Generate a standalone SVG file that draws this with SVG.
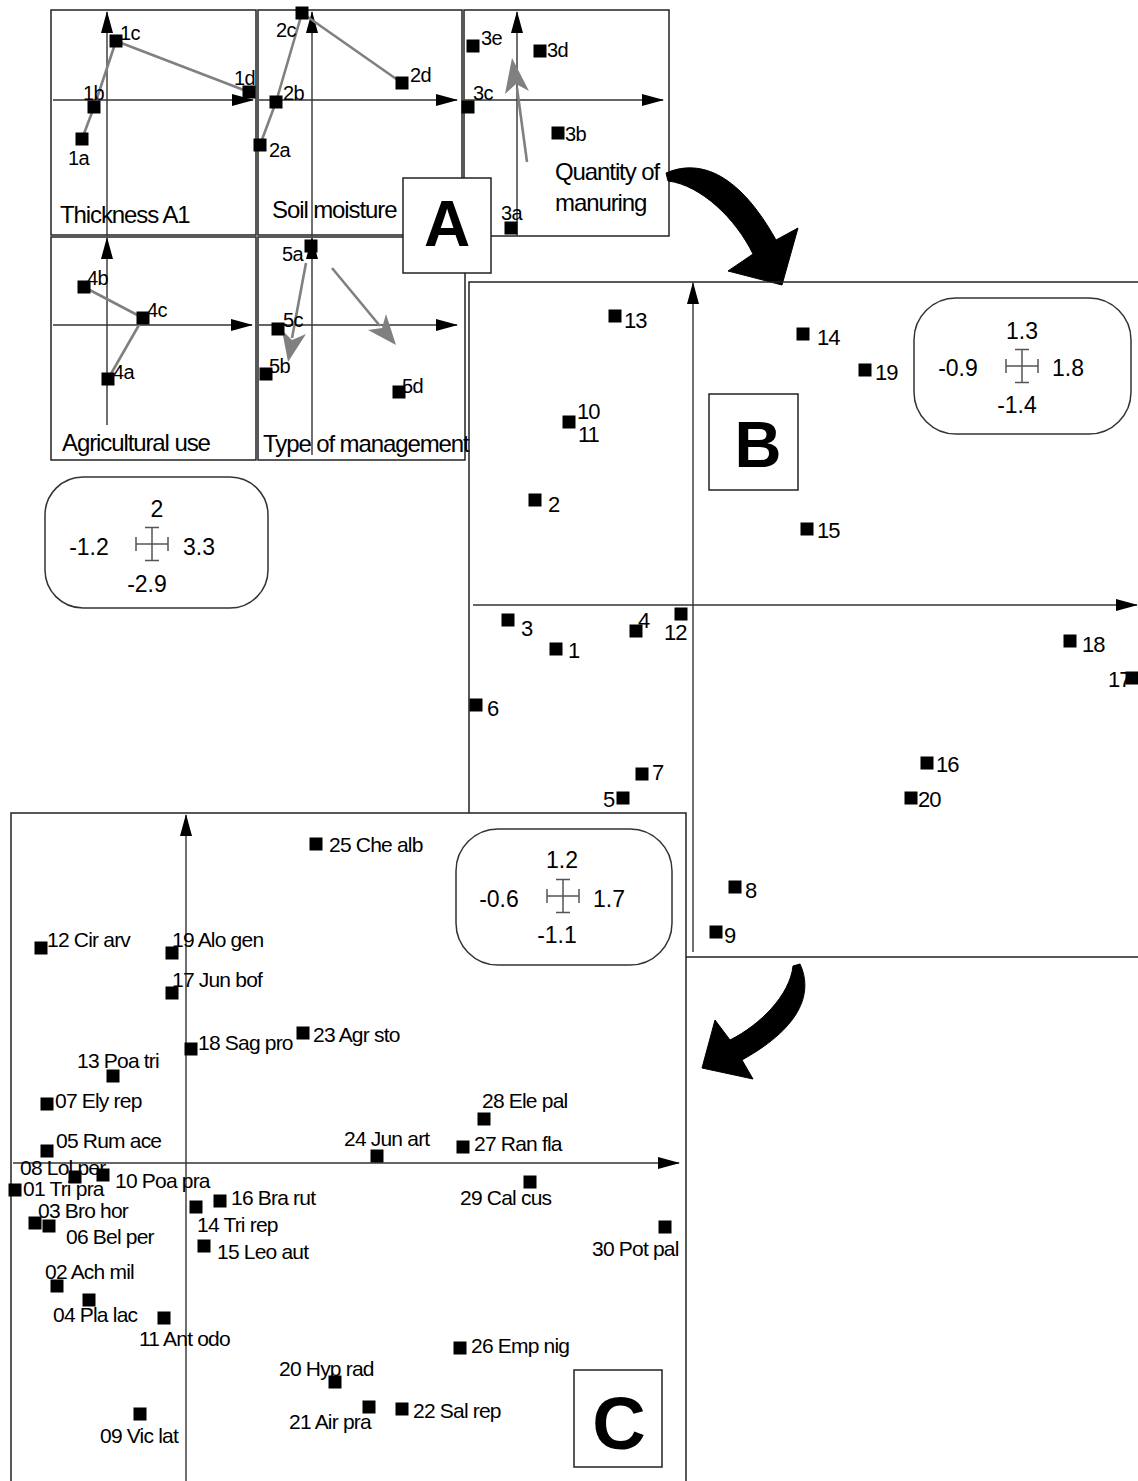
<svg xmlns="http://www.w3.org/2000/svg" xmlns:xlink="http://www.w3.org/1999/xlink" width="1138" height="1481" viewBox="0 0 1138 1481">
<style>
  text { font-family: "Liberation Sans", Arial, sans-serif; fill: #000; }
  .cell { fill: none; stroke: #222; stroke-width: 1.5; }
  .frame { fill: #fff; stroke: #222; stroke-width: 1.5; }
  .ax { fill: none; stroke: #333; stroke-width: 1.4; marker-end: url(#ah); }
  .tr { fill: none; stroke: #808080; stroke-width: 2.6; stroke-linejoin: round; }
  .trh { fill: #808080; stroke: none; }
  .la { font-size: 20px; letter-spacing: -0.6px; }
  .ttl { font-size: 24px; letter-spacing: -1.1px; }
  .lb { font-size: 22px; letter-spacing: -1px; }
  .lc { font-size: 21px; letter-spacing: -0.8px; }
  .sc { font-size: 23px; text-anchor: middle; }
  .scbox { fill: #fff; stroke: #333; stroke-width: 1.5; }
  .cross { fill: none; stroke: #555; stroke-width: 1.5; }
  .tag { fill: #fff; stroke: #222; stroke-width: 1.5; }
  .big { font-weight: bold; text-anchor: middle; }
  .bigarrow { fill: #000; stroke: #000; stroke-width: 1; }
</style>
<defs>
  <marker id="ah" viewBox="0 0 22 12" refX="21" refY="6" markerWidth="22" markerHeight="12" markerUnits="userSpaceOnUse" orient="auto">
    <path d="M0,0 L22,6 L0,12 Z" fill="#000"/>
  </marker>
  <rect id="sq" x="-6.5" y="-6.5" width="13" height="13" fill="#000"/>
  <g id="crossbar">
    <path class="cross" d="M-16,0 H16 M0,-16.5 V16.5 M-16,-7 V7 M16,-7 V7 M-7,-16.5 H7 M-7,16.5 H7"/>
  </g>
</defs>
<rect width="1138" height="1481" fill="#fff"/>

<!-- ===== Panel A: five small ordination plots ===== -->
<g id="panelA">
  <rect class="cell" x="51" y="10" width="205" height="225"/>
  <rect class="cell" x="258" y="10" width="204" height="225"/>
  <rect class="cell" x="464" y="10" width="205" height="226"/>
  <rect class="cell" x="51" y="237" width="205" height="223"/>
  <rect class="cell" x="258" y="237" width="207" height="223"/>

  <!-- axes -->
  <line class="ax" x1="53" y1="100" x2="253" y2="100"/>
  <line class="ax" x1="107" y1="236" x2="107" y2="12"/>
  <line class="ax" x1="259" y1="100" x2="457" y2="100"/>
  <line class="ax" x1="312" y1="236" x2="312" y2="12"/>
  <line class="ax" x1="465" y1="100" x2="663" y2="100"/>
  <line class="ax" x1="517" y1="236" x2="517" y2="12"/>
  <line class="ax" x1="53" y1="325" x2="252" y2="325"/>
  <line class="ax" x1="107" y1="425" x2="107" y2="238"/>
  <line class="ax" x1="259" y1="325" x2="457" y2="325"/>
  <line class="ax" x1="312" y1="455" x2="312" y2="238"/>

  <text class="ttl" x="60" y="223">Thickness A1</text>
  <text class="ttl" x="272" y="218">Soil moisture</text>
  <text class="ttl" x="555" y="180">Quantity of</text>
  <text class="ttl" x="555" y="211">manuring</text>
  <text class="ttl" x="62" y="451">Agricultural use</text>
  <text class="ttl" x="263" y="452">Type of management</text>
</g>

<!-- connectors: trajectories in panel A and the arrows between panels -->
<g id="connectors">
  <polyline class="tr" points="82,139 94,107 116,41 249,92"/>
  <polyline class="tr" points="260,145 276,102 302,13 402,83"/>
  <polyline class="tr" points="84,287 143,318 108,379"/>
  <line class="tr" x1="527" y1="162" x2="517" y2="88"/>
  <polygon class="trh" points="512,58 529,91 516,84 505,94"/>
  <line class="tr" x1="306" y1="263" x2="292" y2="338"/>
  <polygon class="trh" points="288,362 306,334 292,340 282,330"/>
  <line class="tr" x1="332" y1="268" x2="380" y2="326"/>
  <polygon class="trh" points="396,345 386,314 382,328 368,330"/>
  <path id="arrowAB" class="bigarrow" d="M668,181 L666,173 C696,160 736,168 776,240 L798,228 L782,285 L728,271 L753,254 C736,219 701,185 668,181 Z"/>
  <path id="arrowBC" class="bigarrow" d="M793,966 L800,964 C812,990 805,1025 742,1060 L753,1079 L702,1068 L715,1020 L730,1040 C760,1025 790,995 793,966 Z"/>
</g>

<g id="tagA"><rect class="tag" x="403" y="178" width="88" height="95"/><text class="big" x="447" y="246" font-size="64">A</text></g>

<g id="p1a"><use href="#sq" x="82" y="139"/><text class="la" x="68" y="165">1a</text></g>
<g id="p1b"><use href="#sq" x="94" y="107"/><text class="la" x="83" y="100">1b</text></g>
<g id="p1c"><use href="#sq" x="116" y="41"/><text class="la" x="120" y="40">1c</text></g>
<g id="p1d"><use href="#sq" x="249" y="92"/><text class="la" x="234" y="85">1d</text></g>
<g id="p2a"><use href="#sq" x="260" y="145"/><text class="la" x="269" y="157">2a</text></g>
<g id="p2b"><use href="#sq" x="276" y="102"/><text class="la" x="283" y="100">2b</text></g>
<g id="p2c"><use href="#sq" x="302" y="13"/><text class="la" x="276" y="37">2c</text></g>
<g id="p2d"><use href="#sq" x="402" y="83"/><text class="la" x="410" y="82">2d</text></g>
<g id="p3e"><use href="#sq" x="473" y="46"/><text class="la" x="481" y="45">3e</text></g>
<g id="p3d"><use href="#sq" x="540" y="51"/><text class="la" x="547" y="57">3d</text></g>
<g id="p3c"><use href="#sq" x="468" y="107"/><text class="la" x="473" y="100">3c</text></g>
<g id="p3b"><use href="#sq" x="558" y="133"/><text class="la" x="565" y="141">3b</text></g>
<g id="p3a"><use href="#sq" x="511" y="228"/><text class="la" x="501" y="220">3a</text></g>
<g id="p4b"><use href="#sq" x="84" y="287"/><text class="la" x="87" y="285">4b</text></g>
<g id="p4c"><use href="#sq" x="143" y="318"/><text class="la" x="147" y="317">4c</text></g>
<g id="p4a"><use href="#sq" x="108" y="379"/><text class="la" x="113" y="379">4a</text></g>
<g id="p5a"><use href="#sq" x="311" y="246"/><text class="la" x="282" y="261">5a</text></g>
<g id="p5c"><use href="#sq" x="278" y="329"/><text class="la" x="283" y="327">5c</text></g>
<g id="p5b"><use href="#sq" x="266" y="374"/><text class="la" x="269" y="373">5b</text></g>
<g id="p5d"><use href="#sq" x="399" y="392"/><text class="la" x="402" y="393">5d</text></g>

<g id="scaleA">
  <rect class="scbox" x="45" y="477" width="223" height="131" rx="38"/>
  <text class="sc" x="157" y="517">2</text>
  <text class="sc" x="89" y="555">-1.2</text>
  <text class="sc" x="199" y="555">3.3</text>
  <text class="sc" x="147" y="592">-2.9</text>
  <use href="#crossbar" x="152" y="544"/>
</g>

<!-- ===== Panel B: site scores ===== -->
<g id="panelB">
  <path class="cell" d="M469,813 V282 H1138 M686,957 H1138"/>
  <line class="ax" x1="473" y1="605" x2="1137" y2="605"/>
  <line class="ax" x1="693" y1="952" x2="693" y2="283"/>
</g>
<g id="tagB"><rect class="tag" x="709" y="394" width="89" height="96"/><text class="big" x="758" y="467" font-size="65">B</text></g>
<g id="scaleB">
  <rect class="scbox" x="914" y="298" width="217" height="136" rx="42"/>
  <text class="sc" x="1022" y="339">1.3</text>
  <text class="sc" x="958" y="376">-0.9</text>
  <text class="sc" x="1068" y="376">1.8</text>
  <text class="sc" x="1017" y="413">-1.4</text>
  <use href="#crossbar" x="1022" y="366"/>
</g>

<g id="s13"><use href="#sq" x="615" y="316"/><text class="lb" x="624" y="328">13</text></g>
<g id="s10"><use href="#sq" x="569" y="422"/><text class="lb" x="577" y="419" font-size="20">10</text><text class="lb" x="578" y="442" font-size="20">11</text></g>
<g id="s2"><use href="#sq" x="535" y="500"/><text class="lb" x="548" y="512">2</text></g>
<g id="s14"><use href="#sq" x="803" y="334"/><text class="lb" x="817" y="345">14</text></g>
<g id="s19"><use href="#sq" x="865" y="370"/><text class="lb" x="875" y="380">19</text></g>
<g id="s15"><use href="#sq" x="807" y="529"/><text class="lb" x="817" y="538">15</text></g>
<g id="s3"><use href="#sq" x="508" y="620"/><text class="lb" x="521" y="636">3</text></g>
<g id="s1"><use href="#sq" x="556" y="649"/><text class="lb" x="568" y="658">1</text></g>
<g id="s4"><use href="#sq" x="636" y="631"/><text class="lb" x="638" y="628">4</text></g>
<g id="s12"><use href="#sq" x="681" y="614"/><text class="lb" x="664" y="640">12</text></g>
<g id="s6"><use href="#sq" x="476" y="705"/><text class="lb" x="487" y="716">6</text></g>
<g id="s7"><use href="#sq" x="642" y="774"/><text class="lb" x="652" y="780">7</text></g>
<g id="s5"><use href="#sq" x="623" y="798"/><text class="lb" x="603" y="807">5</text></g>
<g id="s18"><use href="#sq" x="1070" y="641"/><text class="lb" x="1082" y="652">18</text></g>
<g id="s17"><use href="#sq" x="1132" y="678"/><text class="lb" x="1108" y="687">17</text></g>
<g id="s16"><use href="#sq" x="927" y="763"/><text class="lb" x="936" y="772">16</text></g>
<g id="s20"><use href="#sq" x="911" y="798"/><text class="lb" x="918" y="807">20</text></g>
<g id="s8"><use href="#sq" x="735" y="887"/><text class="lb" x="745" y="898">8</text></g>
<g id="s9"><use href="#sq" x="716" y="932"/><text class="lb" x="724" y="943">9</text></g>

<!-- ===== Panel C: species scores ===== -->
<g id="panelC">
  <rect class="frame" x="11" y="813" width="675" height="690"/>
  <line class="ax" x1="13" y1="1163" x2="679" y2="1163"/>
  <line class="ax" x1="186" y1="1481" x2="186" y2="815"/>
</g>
<g id="scaleC">
  <rect class="scbox" x="456" y="829" width="216" height="136" rx="42"/>
  <text class="sc" x="562" y="868">1.2</text>
  <text class="sc" x="499" y="907">-0.6</text>
  <text class="sc" x="609" y="907">1.7</text>
  <text class="sc" x="557" y="943">-1.1</text>
  <use href="#crossbar" x="563" y="896"/>
</g>
<g id="tagC"><rect class="tag" x="574" y="1370" width="88" height="97"/><text class="big" x="619" y="1449" font-size="74">C</text></g>

<g id="c25"><use href="#sq" x="316" y="844"/><text class="lc" x="329" y="852">25 Che alb</text></g>
<g id="c12"><use href="#sq" x="41" y="948"/><text class="lc" x="47" y="947">12 Cir arv</text></g>
<g id="c19"><use href="#sq" x="172" y="953"/><text class="lc" x="172" y="947">19 Alo gen</text></g>
<g id="c17"><use href="#sq" x="172" y="993"/><text class="lc" x="172" y="987">17 Jun bof</text></g>
<g id="c18"><use href="#sq" x="191" y="1049"/><text class="lc" x="198" y="1050">18 Sag pro</text></g>
<g id="c23"><use href="#sq" x="303" y="1033"/><text class="lc" x="313" y="1042">23 Agr sto</text></g>
<g id="c13"><use href="#sq" x="113" y="1076"/><text class="lc" x="77" y="1068">13 Poa tri</text></g>
<g id="c07"><use href="#sq" x="47" y="1104"/><text class="lc" x="55" y="1108">07 Ely rep</text></g>
<g id="c28"><use href="#sq" x="484" y="1119"/><text class="lc" x="482" y="1108">28 Ele pal</text></g>
<g id="c05"><use href="#sq" x="47" y="1151"/><text class="lc" x="56" y="1148">05 Rum ace</text></g>
<g id="c24"><use href="#sq" x="377" y="1156"/><text class="lc" x="344" y="1146">24 Jun art</text></g>
<g id="c27"><use href="#sq" x="463" y="1147"/><text class="lc" x="474" y="1151">27 Ran fla</text></g>
<g id="c08"><use href="#sq" x="75" y="1177"/><text class="lc" x="20" y="1175">08 Lol per</text></g>
<g id="c10"><use href="#sq" x="103" y="1175"/><text class="lc" x="115" y="1188">10 Poa pra</text></g>
<g id="c01"><use href="#sq" x="15" y="1190"/><text class="lc" x="23" y="1196">01 Tri pra</text></g>
<g id="c16"><use href="#sq" x="220" y="1201"/><text class="lc" x="231" y="1205">16 Bra rut</text></g>
<g id="c14"><use href="#sq" x="196" y="1207"/><text class="lc" x="197" y="1232">14 Tri rep</text></g>
<g id="c29"><use href="#sq" x="530" y="1182"/><text class="lc" x="460" y="1205">29 Cal cus</text></g>
<g id="c03"><use href="#sq" x="35" y="1223"/><text class="lc" x="38" y="1218">03 Bro hor</text></g>
<g id="c06"><use href="#sq" x="49" y="1226"/><text class="lc" x="66" y="1244">06 Bel per</text></g>
<g id="c30"><use href="#sq" x="665" y="1227"/><text class="lc" x="592" y="1256">30 Pot pal</text></g>
<g id="c15"><use href="#sq" x="204" y="1246"/><text class="lc" x="217" y="1259">15 Leo aut</text></g>
<g id="c02"><use href="#sq" x="57" y="1286"/><text class="lc" x="45" y="1279">02 Ach mil</text></g>
<g id="c04"><use href="#sq" x="89" y="1300"/><text class="lc" x="53" y="1322">04 Pla lac</text></g>
<g id="c11"><use href="#sq" x="164" y="1318"/><text class="lc" x="139" y="1346">11 Ant odo</text></g>
<g id="c26"><use href="#sq" x="460" y="1348"/><text class="lc" x="471" y="1353">26 Emp nig</text></g>
<g id="c20"><use href="#sq" x="335" y="1382"/><text class="lc" x="279" y="1376">20 Hyp rad</text></g>
<g id="c21"><use href="#sq" x="369" y="1407"/><text class="lc" x="289" y="1429">21 Air pra</text></g>
<g id="c22"><use href="#sq" x="402" y="1409"/><text class="lc" x="413" y="1418">22 Sal rep</text></g>
<g id="c09"><use href="#sq" x="140" y="1414"/><text class="lc" x="100" y="1443">09 Vic lat</text></g>
</svg>
